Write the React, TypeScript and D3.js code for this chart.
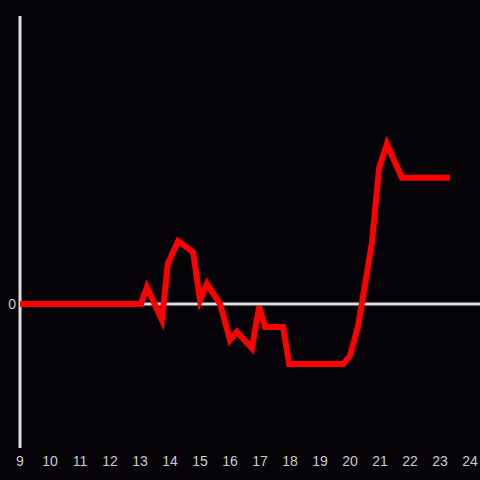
import React from "react";
import * as d3 from "d3";

const hours = [9, 13.03, 13.23, 13.73, 13.93, 14.27, 14.77, 15.0, 15.23, 15.67, 16.0, 16.23, 16.73, 16.97, 17.17, 17.77, 17.97, 19.77, 20.0, 20.27, 20.73, 20.97, 21.23, 21.73, 23.33];
const values = [0, 0, 0.35, -0.33, 0.85, 1.31, 1.08, 0.08, 0.42, 0, -0.75, -0.58, -0.92, -0.06, -0.48, -0.48, -1.25, -1.25, -1.08, -0.46, 1.27, 2.83, 3.33, 2.63, 2.63];
const xTicks = [9, 10, 11, 12, 13, 14, 15, 16, 17, 18, 19, 20, 21, 22, 23, 24];
const yTicks = [0];

export default function App() {
  const W = 480, H = 480;
  const x = d3.scaleLinear().domain([9, 24]).range([20, 470]);
  const y = d3.scaleLinear().domain([-3, 6]).range([448, 16]);
  const pts = hours.map((h, i) => [h, values[i]] as [number, number]);
  const line = d3.line<[number, number]>().x(d => x(d[0])).y(d => y(d[1]));
  return (
    <svg width={W} height={H} style={{ position: "absolute", left: 0, top: 0, background: "#050307" }}>
      <rect x={0} y={0} width={W} height={H} fill="#050307" />
      <line x1={20} x2={480} y1={y(0)} y2={y(0)} stroke="#dddddd" strokeWidth={3} />
      <line x1={20} x2={20} y1={16} y2={448} stroke="#dddddd" strokeWidth={3} />
      {yTicks.map(t => (
        <text key={t} x={16} y={y(t)} dy="0.35em" textAnchor="end" fill="#cccccc" fontFamily="Liberation Sans, Arial, sans-serif" fontSize={14}>{t}</text>
      ))}
      {xTicks.map(t => (
        <text key={t} x={x(t)} y={466} textAnchor="middle" fill="#cccccc" fontFamily="Liberation Sans, Arial, sans-serif" fontSize={14}>{t}</text>
      ))}
      <path d={line(pts) || ""} fill="none" stroke="#ff0000" strokeWidth={6} strokeLinejoin="miter" />
    </svg>
  );
}
